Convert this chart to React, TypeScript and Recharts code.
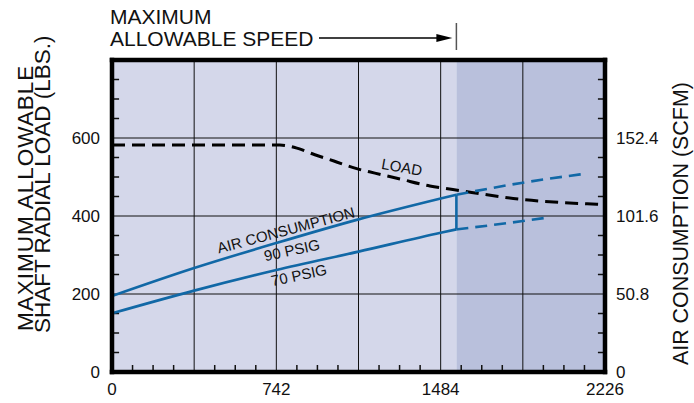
import React from 'react'
import {
  LineChart,
  Line,
  XAxis,
  YAxis,
  ReferenceArea,
  ReferenceLine,
  ReferenceDot,
} from 'recharts'

const FONT = '"Liberation Sans", Arial, Helvetica, sans-serif'

// axis ticks
const speedLabels = [0, 742, 1484, 2226]
const speedGrid = [0, 371, 742, 1113, 1484, 1855, 2226]
const loadTicks = [0, 200, 400, 600, 800]
const airTicks = [0, 50.8, 101.6, 152.4]
const maxSpeed = 1555

// maximum allowable shaft radial load (lbs)
const loadSpeed = [0, 758, 835, 916, 1002, 1101, 1187, 1300, 1435, 1539, 1841, 2189, 2226]
const loadValues = [582, 582, 574, 557, 541, 522, 510, 495, 477, 468, 443, 430, 429]

// air consumption (scfm) up to max speed
const airSpeed = [0, 371, 742, 1113, 1484, 1555]
const air90Values = [49.5, 67.7, 84.0, 99.4, 113.0, 115.5]
const air70Values = [38.2, 53.0, 66.4, 78.4, 90.7, 92.9]

// beyond max speed (dashed)
const air90ExtSpeed = [1555, 1855, 2120]
const air90ExtValues = [115.5, 123.3, 128.8]
const air70ExtSpeed = [1555, 1855, 1962]
const air70ExtValues = [92.9, 98.3, 100.5]

const notes = [
  { text: 'LOAD', x: 1309, y: 526, axis: 'load', angle: 10 },
  { text: 'AIR CONSUMPTION', x: 785, y: 92.5, axis: 'air', angle: -15 },
  { text: '90 PSIG', x: 812, y: 79.5, axis: 'air', angle: -12 },
  { text: '70 PSIG', x: 844, y: 63.2, axis: 'air', angle: -12 },
]

const LIGHT = '#d4d7ea'
const DARK = '#b9c0dc'
const BLUE = '#1168a6'

const toPoints = (xs: number[], ys: number[]) => xs.map((x, i) => ({ x, v: ys[i] }))

const minorX = Array.from({ length: 23 }, (_, i) => (i + 1) * 92.75).filter(v => v % 371 !== 0)
const minorY = Array.from({ length: 15 }, (_, i) => (i + 1) * 50).filter(v => v % 200 !== 0)

// plot geometry, used only for the annotation above the frame
const PLOT_LEFT = 112
const PLOT_WIDTH = 493

export default function App() {
  const speedX = PLOT_LEFT + (maxSpeed / 2226) * PLOT_WIDTH
  const tickStyle = { fontSize: 17, fill: '#111', fontFamily: FONT }

  return (
    <div style={{ position: 'absolute', left: 0, top: 0, width: 694, height: 403, background: '#fff' }}>
      <LineChart width={694} height={403} margin={{ top: 60, right: 29, bottom: 6, left: 52 }}>
        <XAxis
          type="number"
          dataKey="x"
          domain={[0, 2226]}
          ticks={speedGrid}
          interval={0}
          tickFormatter={(v: number) => (speedLabels.includes(v) ? String(v) : '')}
          axisLine={false}
          tickLine={false}
          tickSize={0}
          tickMargin={11}
          height={25}
          tick={tickStyle}
        />
        <YAxis
          yAxisId="load"
          type="number"
          domain={[0, 800]}
          ticks={loadTicks}
          interval={0}
          tickFormatter={(v: number) => (v === 800 ? '' : String(v))}
          axisLine={false}
          tickLine={false}
          tickSize={0}
          tickMargin={12}
          width={60}
          tick={tickStyle}
        />
        <YAxis
          yAxisId="air"
          orientation="right"
          type="number"
          domain={[0, 203.2]}
          ticks={airTicks}
          interval={0}
          axisLine={false}
          tickLine={false}
          tickSize={0}
          tickMargin={11}
          width={60}
          tick={tickStyle}
        />

        {/* background: light up to max speed, darker beyond */}
        <ReferenceArea yAxisId="load" x1={0} x2={maxSpeed} y1={0} y2={800} fill={LIGHT} fillOpacity={1} stroke="none" zIndex={-300} />
        <ReferenceArea yAxisId="load" x1={maxSpeed} x2={2226} y1={0} y2={800} fill={DARK} fillOpacity={1} stroke="none" zIndex={-300} />

        {/* grid */}
        {speedGrid.slice(1, -1).map(x => (
          <ReferenceLine key={'gx' + x} yAxisId="load" x={x} stroke="#111" strokeWidth={1} />
        ))}
        {loadTicks.slice(1, -1).map(y => (
          <ReferenceLine key={'gy' + y} yAxisId="load" y={y} stroke="#111" strokeWidth={1} />
        ))}

        {/* minor ticks inside the frame */}
        {minorX.map(x => (
          <ReferenceLine key={'mx' + x} yAxisId="load" segment={[{ x, y: 0 }, { x, y: 18 }]} stroke="#111" strokeWidth={1.5} />
        ))}
        {minorY.map(y => (
          <ReferenceLine key={'ml' + y} yAxisId="load" segment={[{ x: 0, y }, { x: 32, y }]} stroke="#111" strokeWidth={1.5} />
        ))}
        {minorY.map(y => (
          <ReferenceLine key={'mr' + y} yAxisId="load" segment={[{ x: 2194, y }, { x: 2226, y }]} stroke="#111" strokeWidth={1.5} />
        ))}

        <Line
          yAxisId="load"
          data={toPoints(loadSpeed, loadValues)}
          dataKey="v"
          type="monotone"
          stroke="#000"
          strokeWidth={3}
          strokeDasharray="13 7"
          dot={false}
          isAnimationActive={false}
        />
        <Line yAxisId="air" data={toPoints(airSpeed, air90Values)} dataKey="v" type="monotone" stroke={BLUE} strokeWidth={2.6} dot={false} isAnimationActive={false} />
        <Line yAxisId="air" data={toPoints(airSpeed, air70Values)} dataKey="v" type="monotone" stroke={BLUE} strokeWidth={2.6} dot={false} isAnimationActive={false} />
        <Line
          yAxisId="air"
          data={toPoints([maxSpeed, maxSpeed], [air90Values[air90Values.length - 1], air70Values[air70Values.length - 1]])}
          dataKey="v"
          type="linear"
          stroke={BLUE}
          strokeWidth={2.6}
          dot={false}
          isAnimationActive={false}
        />
        <Line yAxisId="air" data={toPoints(air90ExtSpeed, air90ExtValues)} dataKey="v" type="monotone" stroke={BLUE} strokeWidth={2.6} strokeDasharray="12 7" dot={false} isAnimationActive={false} />
        <Line yAxisId="air" data={toPoints(air70ExtSpeed, air70ExtValues)} dataKey="v" type="monotone" stroke={BLUE} strokeWidth={2.6} strokeDasharray="12 7" dot={false} isAnimationActive={false} />

        {notes.map(n => (
          <ReferenceDot
            key={n.text}
            yAxisId={n.axis}
            x={n.x}
            y={n.y}
            r={0}
            shape={(p: any) => (
              <text
                x={p.cx}
                y={p.cy}
                textAnchor="middle"
                dominantBaseline="central"
                transform={`rotate(${n.angle} ${p.cx} ${p.cy})`}
                fontSize={15}
                fontFamily={FONT}
                fill="#111"
              >
                {n.text}
              </text>
            )}
          />
        ))}

        {/* frame */}
        <ReferenceLine yAxisId="load" x={0} stroke="#000" strokeWidth={4.5} strokeLinecap="square" />
        <ReferenceLine yAxisId="load" x={2226} stroke="#000" strokeWidth={4.5} strokeLinecap="square" />
        <ReferenceLine yAxisId="load" y={0} stroke="#000" strokeWidth={4.5} strokeLinecap="square" />
        <ReferenceLine yAxisId="load" y={800} stroke="#000" strokeWidth={4.5} strokeLinecap="square" />
      </LineChart>

      <svg width={694} height={403} style={{ position: 'absolute', left: 0, top: 0, pointerEvents: 'none' }} fontFamily={FONT}>
        <text x={110} y={24} fontSize={21} fill="#111">MAXIMUM</text>
        <text x={110} y={46} fontSize={21} fill="#111">ALLOWABLE SPEED</text>
        <line x1={319} y1={38} x2={440} y2={38} stroke="#000" strokeWidth={1.3} />
        <polygon points={`${speedX - 20},34 ${speedX - 4},38 ${speedX - 20},42`} fill="#000" />
        <line x1={speedX} y1={23} x2={speedX} y2={50} stroke="#555" strokeWidth={1.5} />

        <text transform="translate(33,331) rotate(-90)" fontSize={22.5} letterSpacing={1} fill="#111">MAXIMUM ALLOWABLE</text>
        <text transform="translate(49.5,333) rotate(-90)" fontSize={22.5} fill="#111">SHAFT RADIAL LOAD (LBS.)</text>
        <text transform="translate(688,365) rotate(-90)" fontSize={21.4} fill="#111">AIR CONSUMPTION (SCFM)</text>
      </svg>
    </div>
  )
}
